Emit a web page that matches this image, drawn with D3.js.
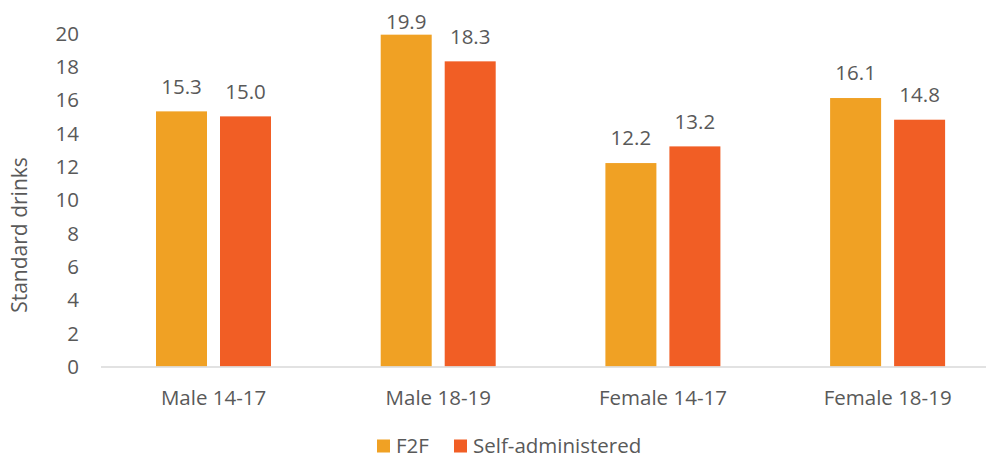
<!DOCTYPE html>
<html><head><meta charset="utf-8">
<script src="https://cdnjs.cloudflare.com/ajax/libs/d3/7.8.5/d3.min.js"></script>
<style>body{margin:0;background:#fff}svg{display:block}text{font-family:"Open Sans",sans-serif;fill:#595959}</style>
</head><body>
<svg id="c" width="986" height="459"></svg>
<script>
const categories = ["Male 14-17","Male 18-19","Female 14-17","Female 18-19"];
const seriesNames = ["F2F","Self-administered"];
const f2f = [15.3,19.9,12.2,16.1];
const selfAdmin = [15.0,18.3,13.2,14.8];
const yTicks = [0,2,4,6,8,10,12,14,16,18,20];
const colors = ["#F0A124","#F15E25"];
const FS = 20.5;

const svg = d3.select("#c");
const x0 = d3.scaleBand().domain(categories).range([101.2,1000]);
const x1 = d3.scaleBand().domain(seriesNames).range([54.8, 54.8+115]).paddingInner(13/64);
const y = d3.scaleLinear().domain([0,20]).range([366.5,33]);

const yAxis = d3.axisLeft(y).tickValues(yTicks).tickSize(0).tickPadding(0).tickFormat(d3.format("d"));
const ga = svg.append("g").attr("transform","translate(79,0)").call(yAxis);
ga.select(".domain").remove();
ga.selectAll("text").attr("font-size",FS).style("font-family","Open Sans").attr("fill","#595959").attr("dy","0.35em");

const data = categories.map((c,i)=>({c, vals:[f2f[i], selfAdmin[i]]}));
const g = svg.append("g");
data.forEach(d=>{
  d.vals.forEach((v,j)=>{
    const xb = x0(d.c)+x1(seriesNames[j]);
    g.append("rect").attr("x",xb).attr("y",y(v)).attr("width",x1.bandwidth()).attr("height",y(0)-y(v)).attr("fill",colors[j]);
    g.append("text").attr("x",xb+x1.bandwidth()/2).attr("y",Math.max(y(v)-25,22)).attr("dy","0.35em").attr("text-anchor","middle").attr("font-size",FS).text(d3.format(".1f")(v));
  });
});

const xAxis = d3.axisBottom(x0).tickSize(0).tickPadding(0);
const gx = svg.append("g").attr("transform","translate(0,366.5)").call(xAxis);
gx.select(".domain").remove();
gx.selectAll("text").attr("font-size",FS).style("font-family","Open Sans").attr("fill","#595959").attr("y",31).attr("dy","0.35em");
svg.append("line").attr("x1",101).attr("x2",986).attr("y1",367).attr("y2",367).attr("stroke","#d9d9d9").attr("stroke-width",1.5);

svg.append("text").attr("transform","translate(20,235) rotate(-90)").attr("text-anchor","middle").attr("dy","0.35em").attr("font-size",21).text("Standard drinks");

const leg = svg.append("g");
const legX = [377,454];
seriesNames.forEach((s,j)=>{
  leg.append("rect").attr("x",legX[j]).attr("y",439.5).attr("width",13).attr("height",13).attr("fill",colors[j]);
  leg.append("text").attr("x",legX[j]+19).attr("y",445.5).attr("dy","0.35em").attr("font-size",FS).text(s);
});
</script>
</body></html>
